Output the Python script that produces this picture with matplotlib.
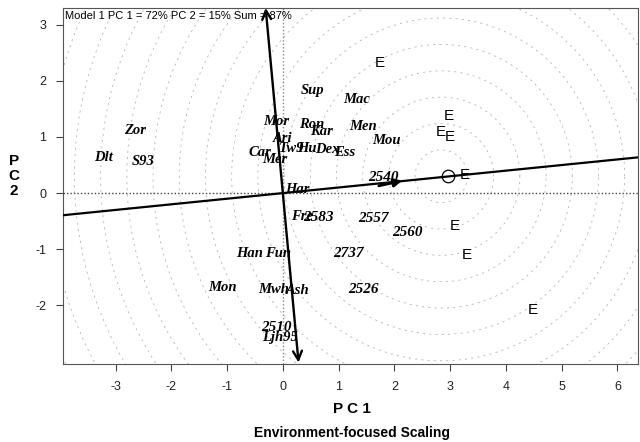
import matplotlib
matplotlib.use("Agg")
import matplotlib.pyplot as plt
import numpy as np

# ---- data ----
geno_labels = ["Zor", "Dlt", "S93", "Sup", "Mac", "Mor", "Ron", "Kar", "Men", "Mou",
               "Ari", "Tw9", "Hu", "Dex", "Ess", "Car", "Mer", "Har", "Fre", "2583",
               "2557", "2560", "2540", "2737", "Han", "Fun", "Mon", "Mwh", "Ash",
               "2526", "2510", "Ljh95"]
geno_x = [-2.66, -3.21, -2.50, 0.54, 1.33, -0.12, 0.52, 0.70, 1.44, 1.85,
          0.00, 0.16, 0.43, 0.79, 1.11, -0.41, -0.14, 0.25, 0.34, 0.63,
          1.62, 2.24, 1.80, 1.17, -0.59, -0.09, -1.08, -0.16, 0.27,
          1.44, -0.11, -0.05]
geno_y = [1.11, 0.64, 0.57, 1.82, 1.66, 1.27, 1.23, 1.10, 1.18, 0.93,
          0.98, 0.80, 0.80, 0.77, 0.73, 0.73, 0.59, 0.07, -0.41, -0.43,
          -0.45, -0.71, 0.28, -1.07, -1.07, -1.07, -1.68, -1.71, -1.73,
          -1.71, -2.39, -2.57]

env_x = [1.74, 2.97, 2.84, 2.99, 3.26, 3.08, 3.30, 4.48]
env_y = [2.32, 1.38, 1.09, 1.00, 0.32, -0.59, -1.11, -2.09]

ideal_x, ideal_y = 2.96, 0.31
ring_cx, ring_cy = 2.84, 0.30
ring_step = 0.47

aea_x = [-3.95, 6.37]
aea_y = [-0.395, 0.637]
pc_axis_x = [-0.31, 0.28]
pc_axis_y = [3.30, -3.02]
env_arrow_x = [1.72, 2.14]
env_arrow_y = [0.13, 0.22]

xticks = [-3, -2, -1, 0, 1, 2, 3, 4, 5, 6]
yticks = [-2, -1, 0, 1, 2, 3]
xlim = (-3.95, 6.37)
ylim = (-3.05, 3.30)

# ---- figure ----
fig = plt.figure(figsize=(6.4, 4.42), dpi=100)
ax = fig.add_axes([0.098, 0.176, 0.899, 0.806])
ax.set_xlim(*xlim)
ax.set_ylim(*ylim)

# concentric rings
t = np.linspace(0, 2 * np.pi, 500)
for k in range(1, 17):
    r = ring_step * k
    ax.plot(ring_cx + r * np.cos(t), ring_cy + r * np.sin(t),
            color="#b4b4b4", lw=0.6, ls=(0, (2.5, 5)), zorder=1)

# reference dotted lines
ax.axhline(0, color="#444444", lw=1.0, ls=(0, (1, 1.5)), zorder=2)
ax.axvline(0, color="#888888", lw=1.0, ls=(0, (1, 1.5)), zorder=2)

# AEA line
ax.plot(aea_x, aea_y, color="black", lw=1.6, zorder=3)
# ordinate axis with arrow heads
ax.annotate("", xy=(pc_axis_x[0], pc_axis_y[0]), xytext=(pc_axis_x[1], pc_axis_y[1]),
            arrowprops=dict(arrowstyle="<->", lw=1.7, color="black",
                            mutation_scale=16, shrinkA=0, shrinkB=0), zorder=3)
# environment arrow
ax.annotate("", xy=(env_arrow_x[1], env_arrow_y[1]), xytext=(env_arrow_x[0], env_arrow_y[0]),
            arrowprops=dict(arrowstyle="-|>", lw=2.0, color="black",
                            mutation_scale=12, shrinkA=0, shrinkB=0), zorder=4)

# ideal environment
ax.plot([ideal_x], [ideal_y], marker="o", ms=9, mfc="none", mec="black", mew=0.9, zorder=4)

# genotype labels
for lab, x, y in zip(geno_labels, geno_x, geno_y):
    size = 11 if lab[0].isdigit() else 10.5
    ax.text(x, y, lab, ha="center", va="center", fontsize=size,
            family="Liberation Serif", style="italic", weight="bold", zorder=5)

# environment markers
for x, y in zip(env_x, env_y):
    ax.text(x, y, "E", ha="center", va="center", fontsize=11,
            family="Liberation Sans", zorder=5)

ax.text(0.004, 0.992, "Model 1 PC 1 = 72% PC 2 = 15% Sum = 87%", transform=ax.transAxes,
        ha="left", va="top", fontsize=8, family="Liberation Sans", zorder=6)

ax.set_xticks(xticks)
ax.set_yticks(yticks)
ax.set_xticklabels([str(v) for v in xticks])
ax.set_yticklabels([str(v) for v in yticks])
ax.tick_params(direction="out", length=5, width=0.8, colors="#444444",
               labelsize=9, labelcolor="#222222", pad=7)
for lab in ax.get_xticklabels() + ax.get_yticklabels():
    lab.set_family("Liberation Sans")
for s in ax.spines.values():
    s.set_color("#555555")
    s.set_linewidth(0.8)

fig.text(0.55, 0.075, "P C 1", ha="center", va="center", fontsize=11,
         weight="bold", family="Liberation Sans")
fig.text(0.55, 0.02, "Environment-focused Scaling", ha="center", va="center",
         fontsize=10, weight="bold", family="Liberation Sans")
fig.text(0.022, 0.602, "P\nC\n2", ha="center", va="center", fontsize=11,
         weight="bold", family="Liberation Sans", linespacing=1.1)

fig.savefig("out.png", dpi=100)
